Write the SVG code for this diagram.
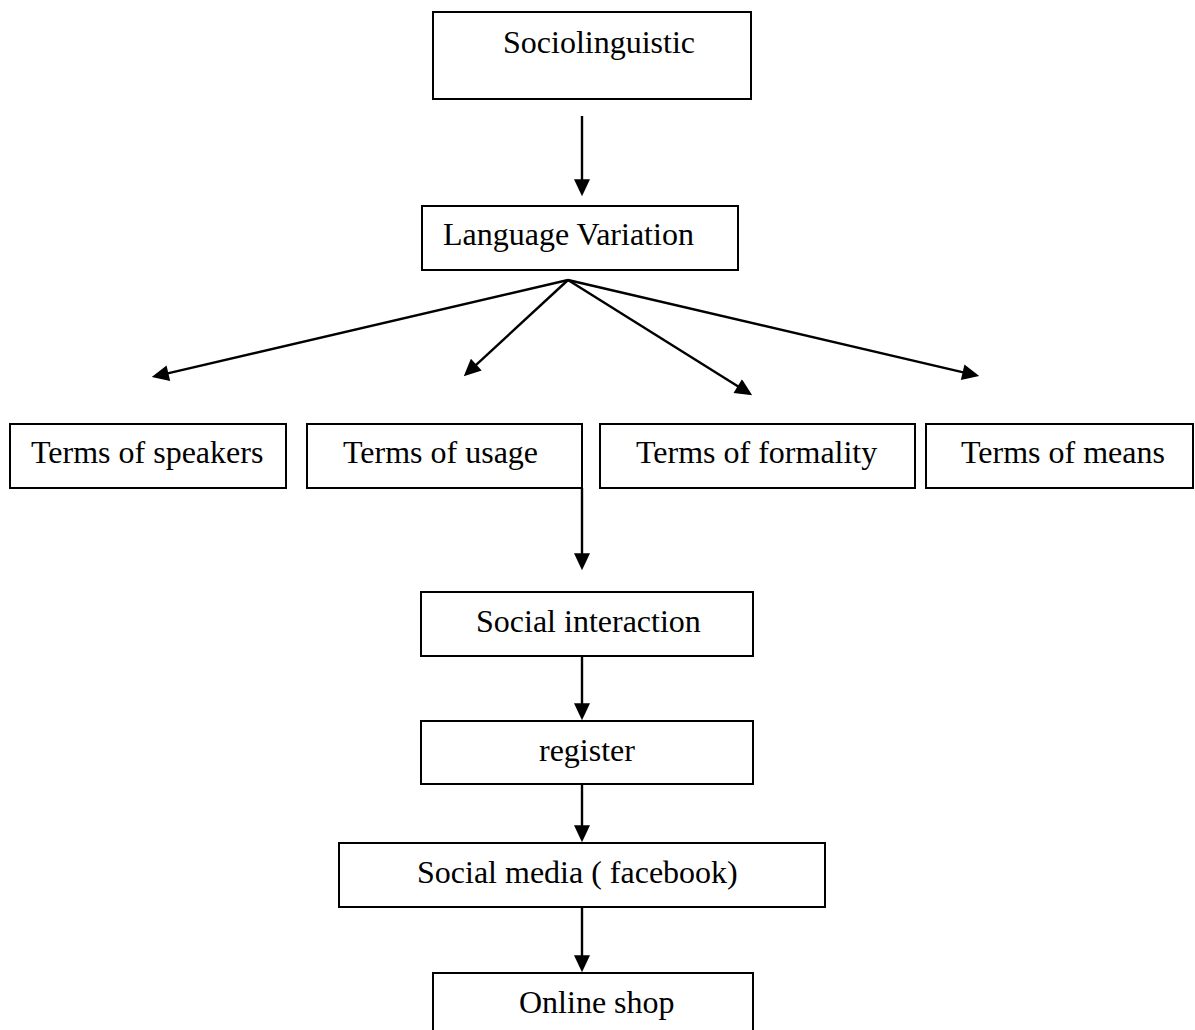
<svg xmlns="http://www.w3.org/2000/svg" width="1195" height="1030" viewBox="0 0 1195 1030">
<style>
.box{fill:#fff;stroke:#000;stroke-width:2}
.lbl{font-family:"Liberation Serif","Times New Roman",serif;font-size:32px;fill:#000}
.con{stroke:#000;stroke-width:2.4;fill:none;marker-end:url(#ah)}
</style>
<defs>
<marker id="ah" markerUnits="userSpaceOnUse" markerWidth="18" markerHeight="16" refX="12" refY="7.5" orient="auto" viewBox="0 0 16 15">
<path d="M0,0 L16,7.5 L0,15 z" fill="#000"/>
</marker>
</defs>
<rect width="1195" height="1030" fill="#fff"/>
<g id="connectors">
<line class="con" x1="582" y1="116" x2="582" y2="192"/>
<line class="con" x1="568" y1="280" x2="155.9" y2="376.1"/>
<line class="con" x1="568" y1="280" x2="466.9" y2="373.3"/>
<line class="con" x1="568" y1="280" x2="748.6" y2="392.9"/>
<line class="con" x1="568" y1="280" x2="975.1" y2="375.1"/>
<line class="con" x1="582" y1="488" x2="582" y2="566"/>
<line class="con" x1="582" y1="656" x2="582" y2="716"/>
<line class="con" x1="582" y1="784" x2="582" y2="838"/>
<line class="con" x1="582" y1="907" x2="582" y2="968"/>
</g>
<g id="sociolinguistic"><rect class="box" x="433" y="12" width="318" height="87"/><text class="lbl" x="503" y="53">Sociolinguistic</text></g>
<g id="language-variation"><rect class="box" x="422" y="206" width="316" height="64"/><text class="lbl" x="443" y="245">Language Variation</text></g>
<g id="terms-speakers"><rect class="box" x="10" y="424" width="276" height="64"/><text class="lbl" x="31" y="463">Terms of speakers</text></g>
<g id="terms-usage"><rect class="box" x="307" y="424" width="275" height="64"/><text class="lbl" x="343" y="463">Terms of usage</text></g>
<g id="terms-formality"><rect class="box" x="600" y="424" width="315" height="64"/><text class="lbl" x="636" y="463">Terms of formality</text></g>
<g id="terms-means"><rect class="box" x="926" y="424" width="267" height="64"/><text class="lbl" x="961" y="463">Terms of means</text></g>
<g id="social-interaction"><rect class="box" x="421" y="592" width="332" height="64"/><text class="lbl" x="476" y="632">Social interaction</text></g>
<g id="register"><rect class="box" x="421" y="721" width="332" height="63"/><text class="lbl" x="539" y="761">register</text></g>
<g id="social-media"><rect class="box" x="339" y="843" width="486" height="64"/><text class="lbl" x="417" y="883">Social media ( facebook)</text></g>
<g id="online-shop"><rect class="box" x="433" y="973" width="320" height="70"/><text class="lbl" x="519" y="1013">Online shop</text></g>
</svg>
